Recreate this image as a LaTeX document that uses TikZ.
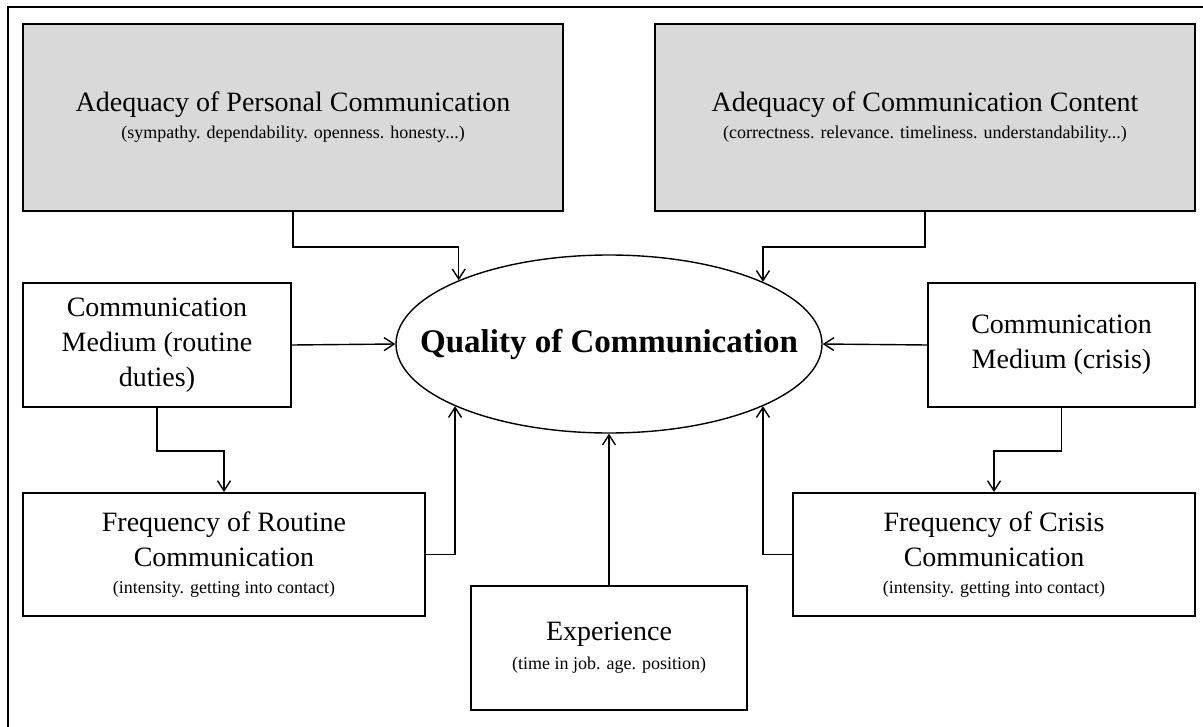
\documentclass[tikz,border=0pt]{standalone}
\usepackage{fontspec}
\setmainfont{Liberation Serif}
\usetikzlibrary{arrows.meta,shapes.geometric}

\newcommand{\detail}[1]{{\fontsize{9}{11}\selectfont #1}}

\begin{document}
\begin{tikzpicture}[x=0.5pt,y=-0.5pt]
    \tikzset{factor/.style = {shape=rectangle,draw,line width=1pt,align=center,inner sep=0pt,font=\fontsize{14}{17.5}\selectfont}}
    \tikzset{greyfactor/.style = {factor,fill=black!15,minimum width=270pt,minimum height=93.5pt}}
    \tikzset{edge/.style = {-{Straight Barb[length=5pt,width=6.5pt]},line width=0.7pt}}
    \useasboundingbox (0,0) rectangle (1203,727);
    \clip (0,0) rectangle (1203,727);
    \draw[line width=1pt] (8,7) rectangle (1210,740);
    % vertices
    \node[greyfactor] (personal) at (293,117.5) {Adequacy of Personal Communication\\[-4pt]\detail{(sympathy. dependability. openness. honesty...)}};
    \node[greyfactor] (content) at (925,117.5) {Adequacy of Communication Content\\[-4pt]\detail{(correctness. relevance. timeliness. understandability...)}};
    \node[ellipse,draw,line width=0.7pt,minimum width=213pt,minimum height=89pt,inner sep=0pt,
          label={[font=\fontsize{16.5}{20}\selectfont\bfseries]center:Quality of Communication}] (quality) at (609,344) {};
    \node[factor,minimum width=134pt,minimum height=62pt] (medroutine) at (157,345) {Communication\\Medium (routine\\duties)};
    \node[factor,minimum width=133.5pt,minimum height=62pt] (medcrisis) at (1061.5,345) {Communication\\Medium (crisis)};
    \node[factor,minimum width=201pt,minimum height=61.5pt] (freqroutine) at (224,554.5) {Frequency of Routine\\Communication\\[-4pt]\detail{(intensity. getting into contact)}};
    \node[factor,minimum width=201pt,minimum height=61.5pt] (freqcrisis) at (994,554.5) {Frequency of Crisis\\Communication\\[-4pt]\detail{(intensity. getting into contact)}};
    \node[factor,minimum width=138pt,minimum height=62pt] (experience) at (609,648) {Experience\\[-3pt]\detail{(time in job. age. position)}};
    %edges
    \draw[edge] (personal.south) -- ++(0,35) -| (quality.157.4);
    \draw[edge] (content.south) -- ++(0,35) -| (quality.22.6);
    \draw[edge] (medroutine.east) -- (quality.west);
    \draw[edge] (medcrisis.west) -- (quality.east);
    \draw[edge] (medroutine.south) -- ++(0,43) -| (freqroutine.north);
    \draw[edge] (medcrisis.south) -- ++(0,43) -| (freqcrisis.north);
    \draw[edge] (freqroutine.east) -| (quality.202.6);
    \draw[edge] (freqcrisis.west) -| (quality.-22.6);
    \draw[edge] (experience.north) -- (quality.south);
\end{tikzpicture}
\end{document}
